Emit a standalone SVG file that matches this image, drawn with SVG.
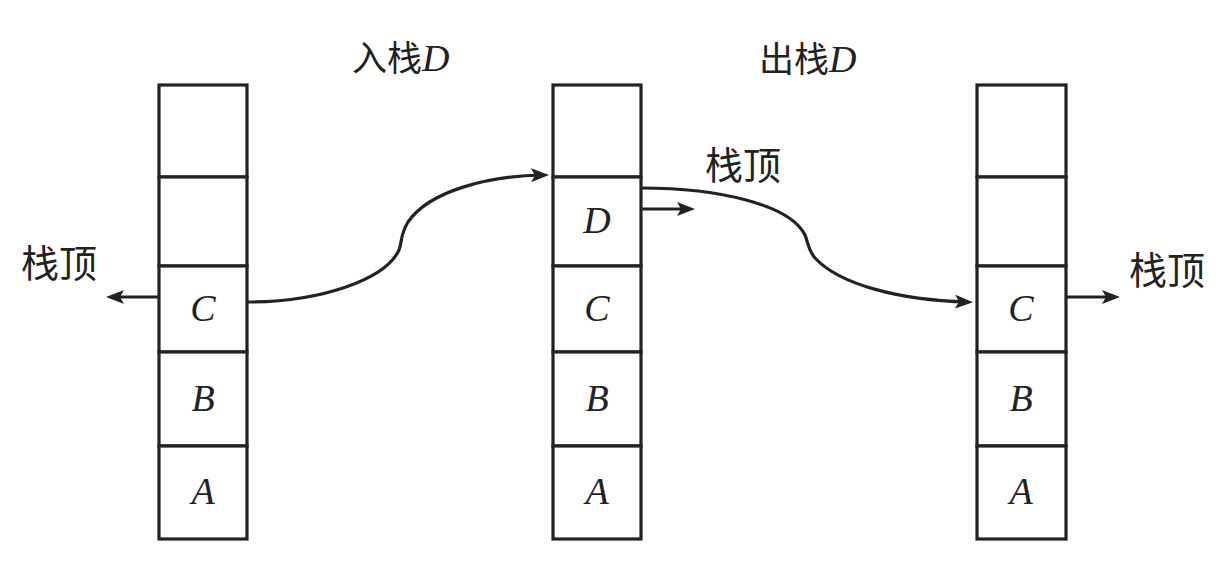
<svg xmlns="http://www.w3.org/2000/svg" width="1226" height="568" viewBox="0 0 1226 568">
<style>
.cell{fill:#fff;stroke:#222;stroke-width:3.2}
.lbl{font-family:"Liberation Serif",serif;font-style:italic;font-size:38px;fill:#222;text-anchor:middle}
.cn{font-family:"Noto Sans CJK SC","Noto Sans",sans-serif;font-size:35px;fill:#222}
.top{font-size:38px}
.it{font-family:"Liberation Serif",serif;font-style:italic;font-size:38px}
.conn{fill:none;stroke:#222;stroke-width:3.2}
</style>
<defs>
<marker id="ah" viewBox="0 0 18 14" refX="12" refY="7" markerWidth="18" markerHeight="14" markerUnits="userSpaceOnUse" orient="auto">
<path d="M0,0 L18,7 L0,14 L4,7 Z" fill="#222"/>
</marker>
</defs>
<rect width="1226" height="568" fill="#fff"/>

<g id="stack-left">
<rect class="cell" x="159" y="85" width="88" height="92"/>
<rect class="cell" x="159" y="177" width="88" height="89"/>
<rect class="cell" x="159" y="266" width="88" height="86"/>
<rect class="cell" x="159" y="352" width="88" height="94"/>
<rect class="cell" x="159" y="446" width="88" height="93"/>
<text class="lbl" x="203" y="321">C</text>
<text class="lbl" x="203" y="411">B</text>
<text class="lbl" x="203" y="504">A</text>
</g>

<g id="stack-middle">
<rect class="cell" x="553" y="85" width="88" height="92"/>
<rect class="cell" x="553" y="177" width="88" height="89"/>
<rect class="cell" x="553" y="266" width="88" height="86"/>
<rect class="cell" x="553" y="352" width="88" height="94"/>
<rect class="cell" x="553" y="446" width="88" height="93"/>
<text class="lbl" x="597" y="233">D</text>
<text class="lbl" x="597" y="321">C</text>
<text class="lbl" x="597" y="411">B</text>
<text class="lbl" x="597" y="504">A</text>
</g>

<g id="stack-right">
<rect class="cell" x="977" y="85" width="89" height="92"/>
<rect class="cell" x="977" y="177" width="89" height="89"/>
<rect class="cell" x="977" y="266" width="89" height="86"/>
<rect class="cell" x="977" y="352" width="89" height="94"/>
<rect class="cell" x="977" y="446" width="89" height="93"/>
<text class="lbl" x="1021" y="321">C</text>
<text class="lbl" x="1021" y="411">B</text>
<text class="lbl" x="1021" y="504">A</text>
</g>

<g id="label-push"><text class="cn" x="352" y="71">入栈<tspan class="it">D</tspan></text></g>
<g id="label-pop"><text class="cn" x="759" y="72">出栈<tspan class="it">D</tspan></text></g>
<g id="label-top-left"><text class="cn top" x="21" y="277">栈顶</text></g>
<g id="label-top-middle"><text class="cn top" x="705" y="179">栈顶</text></g>
<g id="label-top-right"><text class="cn top" x="1129" y="284">栈顶</text></g>

<g id="connectors">
<path class="conn" d="M159,297 L112,297" marker-end="url(#ah)"/>
<path class="conn" d="M1066,297 L1114,297" marker-end="url(#ah)"/>
<path class="conn" d="M641,209 L689,209" marker-end="url(#ah)"/>
<path class="conn" d="M248,302 C320,302 385,280 399,250 C402,243 400,235 408,222 C430,190 490,176 543,175" marker-end="url(#ah)"/>
<path class="conn" d="M641,188 C720,188 790,205 805,235 C808,242 808,250 815,258 C840,285 900,300 967,302" marker-end="url(#ah)"/>
</g>
</svg>
